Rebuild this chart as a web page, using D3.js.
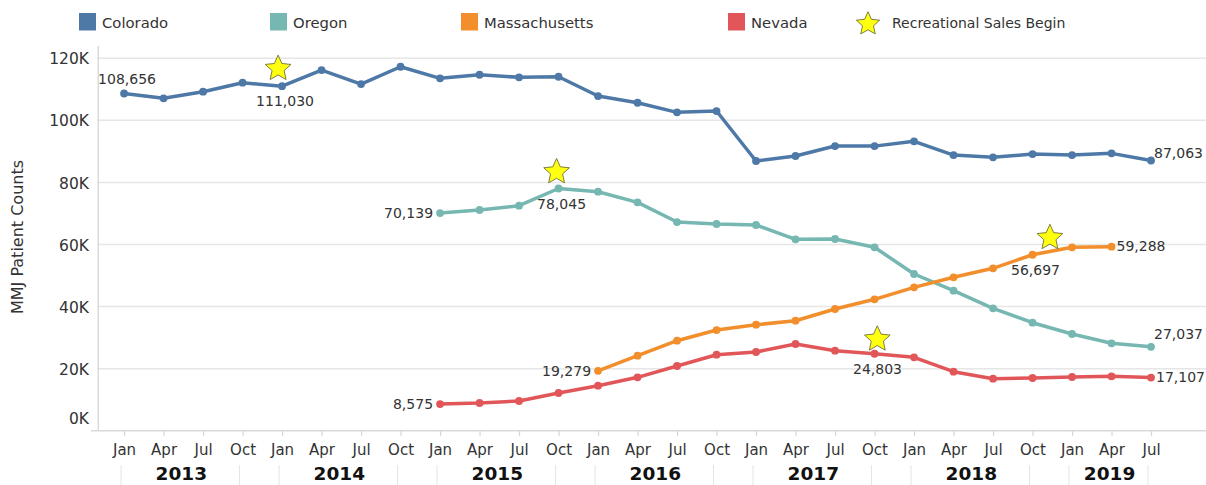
<!DOCTYPE html>
<html>
<head>
<meta charset="utf-8">
<script src="https://cdn.jsdelivr.net/npm/d3@7/dist/d3.min.js"></script>
<style>
  html, body { margin: 0; padding: 0; background: #fff; }
  svg { display: block; }
  text { font-family: "DejaVu Sans", sans-serif; fill: #333; }
</style>
</head>
<body>
<svg id="chart" width="1206" height="485"></svg>
<script>
// ---------------- data ----------------
const years = [2013, 2014, 2015, 2016, 2017, 2018, 2019];
const monthLabels = ["Jan", "Apr", "Jul", "Oct"];
const yTicks = [0, 20000, 40000, 60000, 80000, 100000, 120000];

const seriesNames = ["Colorado", "Oregon", "Massachusetts", "Nevada"];
const seriesColors = ["#4e79a7", "#76b7b2", "#f28e2b", "#e15759"];

const colorado = [108656, 107100, 109230, 112130, 111030, 116220, 111700, 117280,
  113540, 114700, 113860, 114060, 107840, 105680, 102590, 103010,
  86900, 88510, 91730, 91700, 93240, 88830, 88080, 89150, 88830, 89370, 87063];
const oregon = [null, null, null, null, null, null, null, null,
  70139, 71110, 72500, 78045, 77010, 73590, 67240, 66600,
  66280, 61670, 61770, 59090, 50490, 45110, 39440, 34800, 31160, 28160, 27037];
const massachusetts = [null, null, null, null, null, null, null, null,
  null, null, null, null, 19279, 24170, 29000, 32440,
  34150, 35440, 39210, 42340, 46200, 49430, 52330, 56697, 59090, 59288, null];
const nevada = [null, null, null, null, null, null, null, null,
  8575, 8925, 9570, 12150, 14500, 17200, 20850, 24490,
  25360, 27940, 25780, 24803, 23650, 19010, 16760, 16980, 17300, 17530, 17107];

// Recreational sales start markers (quarter index from Jan 2013, value)
const starSeries = ["Colorado", "Oregon", "Nevada", "Massachusetts"];
const starQuarter = [3.9, 10.95, 19.07, 23.44];
const starValue = [117000, 83700, 29800, 62500];

// labelled points
const labelSeries = ["Colorado", "Colorado", "Colorado", "Oregon", "Oregon", "Oregon",
  "Massachusetts", "Massachusetts", "Massachusetts", "Nevada", "Nevada", "Nevada"];
const labelIndex = [0, 4, 26, 8, 11, 26, 12, 23, 25, 8, 19, 26];
const labelPos = ["above", "below", "endHigh", "left", "below", "endHigher",
  "left", "below", "right", "left", "below", "right"];

// ---------------- build ----------------
const values = [colorado, oregon, massachusetts, nevada];
const quarters = [];
years.forEach(y => monthLabels.forEach(m => quarters.push({ year: y, month: m })));
const nQ = colorado.length; // 27 quarters Jan 2013 .. Jul 2019
quarters.length = nQ;

const svg = d3.select("#chart");
const x = d3.scaleLinear().domain([-0.66, 27.24]).range([98, 1200]);
const y = d3.scaleLinear().domain([0, 120000]).range([430.7, 58.3]);

// custom plump five-point star symbol
const fatStar = {
  draw(ctx, size) {
    const R = Math.sqrt(size), r = R * 0.47;
    for (let k = 0; k < 10; k++) {
      const a = -Math.PI / 2 + k * Math.PI / 5;
      const rad = k % 2 === 0 ? R : r;
      const px = Math.cos(a) * rad, py = Math.sin(a) * rad;
      if (k === 0) ctx.moveTo(px, py); else ctx.lineTo(px, py);
    }
    ctx.closePath();
  }
};

// gridlines
svg.append("g").selectAll("line").data(yTicks.filter(d => d > 0)).join("line")
  .attr("x1", 97).attr("x2", 1206)
  .attr("y1", d => y(d)).attr("y2", d => y(d))
  .attr("stroke", "#e6e6e6").attr("stroke-width", 1.5);

// y axis
const yAxis = svg.append("g").attr("transform", `translate(98,0)`)
  .call(d3.axisLeft(y).tickValues(yTicks).tickSize(0).tickPadding(9)
    .tickFormat(d => (d / 1000) + "K"));
yAxis.select(".domain").remove();
yAxis.selectAll("text").attr("font-size", 15.5).attr("fill", "#333")
  .attr("font-family", "DejaVu Sans, sans-serif")
  .attr("dy", d => d === 0 ? "-0.45em" : "0.36em");
svg.append("line").attr("x1", 98.3).attr("x2", 98.3).attr("y1", 46).attr("y2", 431)
  .attr("stroke", "#d9d9d9").attr("stroke-width", 1.5);

// x axis
const xAxis = svg.append("g").attr("transform", `translate(0,${y(0)})`)
  .call(d3.axisBottom(x).tickValues(d3.range(nQ)).tickSize(5).tickPadding(9)
    .tickFormat(i => quarters[i].month));
xAxis.select(".domain").remove();
xAxis.selectAll(".tick line").attr("stroke", "#d4d4d4").attr("stroke-width", 1.2);
xAxis.selectAll("text").attr("font-size", 15).attr("fill", "#333")
  .attr("font-family", "DejaVu Sans, sans-serif");
svg.append("line").attr("x1", 91).attr("x2", 1206).attr("y1", y(0)).attr("y2", y(0))
  .attr("stroke", "#d9d9d9").attr("stroke-width", 1.5);

// year labels + faint separators
years.forEach(yr => {
  const idx = d3.range(nQ).filter(i => quarters[i].year === yr);
  const x0 = x(idx[0]), x1 = x(idx[idx.length - 1]);
  svg.append("text").attr("x", (x0 + x1) / 2 - 2).attr("y", 480)
    .attr("text-anchor", "middle").attr("font-size", 18.5).attr("font-weight", "bold")
    .attr("font-family", "Open Sans, sans-serif").style("fill", "#111").text(yr);
  [x0 - 3, x1 - 3].forEach(sx => {
    svg.append("line").attr("x1", sx).attr("x2", sx).attr("y1", 465).attr("y2", 485)
      .attr("stroke", "#e4e4e4").attr("stroke-width", 1);
  });
});

// y axis title
svg.append("text").attr("transform", "translate(23,237) rotate(-90)")
  .attr("text-anchor", "middle").attr("font-size", 16).text("MMJ Patient Counts");

// lines and points
const line = d3.line().defined(d => d != null).x((d, i) => x(i)).y(d => y(d));
values.forEach((vals, s) => {
  svg.append("path").datum(vals).attr("d", line)
    .attr("fill", "none").attr("stroke", seriesColors[s]).attr("stroke-width", 3.5)
    .attr("stroke-linejoin", "round").attr("stroke-linecap", "round");
  svg.append("g").selectAll("circle")
    .data(vals.map((v, i) => ({ v, i })).filter(d => d.v != null)).join("circle")
    .attr("cx", d => x(d.i)).attr("cy", d => y(d.v)).attr("r", 3.9)
    .attr("fill", seriesColors[s]);
});

// stars
const starPath = d3.symbol().type(fatStar).size(13.5 * 13.5);
starQuarter.forEach((q, k) => {
  svg.append("path").attr("d", starPath())
    .attr("transform", `translate(${x(q)},${y(starValue[k]) + 1})`)
    .attr("fill", "#ffff10").attr("stroke", "#6f6f3a").attr("stroke-width", 0.9)
    .attr("stroke-linejoin", "round");
});

// point labels
const fmt = d3.format(",");
labelIndex.forEach((i, k) => {
  const s = seriesNames.indexOf(labelSeries[k]);
  const v = values[s][i];
  const px = x(i), py = y(v);
  let tx = px, ty = py, anchor = "middle";
  switch (labelPos[k]) {
    case "above": tx = px + 3; ty = py - 10; break;
    case "below": tx = px + 3; ty = py + 20; break;
    case "left": tx = px - 7; ty = py + 5; anchor = "end"; break;
    case "right": tx = px + 5; ty = py + 4.5; anchor = "start"; break;
    case "endHigh": tx = px + 3; ty = py - 3; anchor = "start"; break;
    case "endHigher": tx = px + 3; ty = py - 8; anchor = "start"; break;
  }
  svg.append("text").attr("x", tx).attr("y", ty).attr("text-anchor", anchor)
    .attr("font-size", 14).style("fill", "#333").text(fmt(v));
});

// legend
const legendX = [79, 270, 461, 728];
seriesNames.forEach((n, s) => {
  svg.append("rect").attr("x", legendX[s]).attr("y", 13).attr("width", 17).attr("height", 17.5)
    .attr("fill", seriesColors[s]);
  svg.append("text").attr("x", legendX[s] + 23).attr("y", 27.5).attr("font-size", 14.8)
    .style("fill", "#333").text(n);
});
svg.append("path").attr("d", d3.symbol().type(fatStar).size(12.3 * 12.3)())
  .attr("transform", "translate(868,24)")
  .attr("fill", "#ffff10").attr("stroke", "#6f6f3a").attr("stroke-width", 0.9)
  .attr("stroke-linejoin", "round");
svg.append("text").attr("x", 892).attr("y", 27.5).attr("font-size", 14)
  .style("fill", "#333").text("Recreational Sales Begin");
</script>
</body>
</html>
